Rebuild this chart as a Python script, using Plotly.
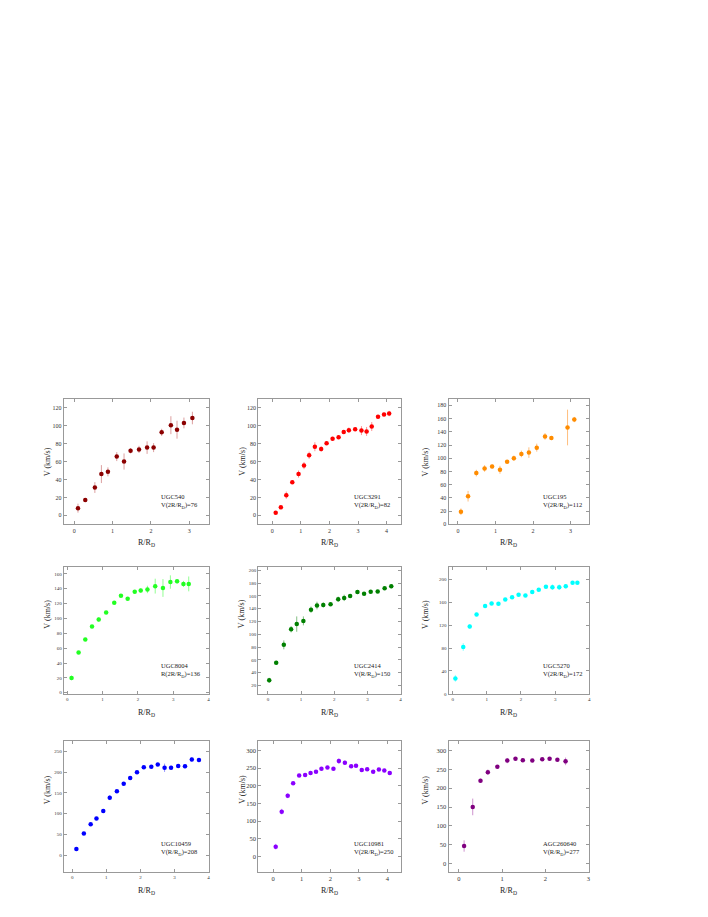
#--------------------- Packages
from plotly.subplots import make_subplots
import plotly.graph_objects as go

#--------------------- Data
# UGC540
r_540 = [0.10, 0.29, 0.54, 0.71, 0.88, 1.11, 1.30, 1.47, 1.69, 1.90, 2.07, 2.28, 2.52, 2.68, 2.86, 3.08]
v_540 = [8, 17, 31, 46, 48.5, 65.5, 60, 72, 73.5, 75.5, 75.5, 92.5, 100.5, 95.5, 103, 108.5]
e_540 = [5, 2, 6, 10, 5, 5, 9, 3, 4, 7, 5, 4, 10, 10, 6, 7]

# UGC3291
r_3291 = [0.12, 0.30, 0.49, 0.70, 0.92, 1.11, 1.29, 1.49, 1.71, 1.90, 2.11, 2.32, 2.50, 2.68, 2.90,
          3.12, 3.30, 3.48, 3.70, 3.91, 4.09]
v_3291 = [3, 9, 22.5, 37, 46, 55.5, 67, 76.5, 74, 80.5, 85.5, 87, 93, 95, 96, 94.5, 93.5, 99, 110, 112.5, 113.5]
e_3291 = [1.5, 1.5, 4, 2, 4, 4, 4, 5, 3, 2, 2, 2, 2, 3, 2, 5, 5, 5, 2, 2, 3]

# UGC195
r_195 = [0.08, 0.27, 0.49, 0.71, 0.91, 1.12, 1.31, 1.49, 1.69, 1.89, 2.10, 2.32, 2.49, 2.92, 3.10]
v_195 = [19, 42.5, 77.5, 84.5, 87.5, 82.5, 94.5, 100, 106.5, 108.5, 116, 133, 130.5, 146.5, 158.5]
e_195 = [5, 8, 5, 5, 3, 6, 2, 4, 5, 8, 6, 5, 3, 27, 4]

# UGC8004
r_8004 = [0.12, 0.32, 0.51, 0.70, 0.89, 1.10, 1.33, 1.52, 1.71, 1.91, 2.08, 2.27, 2.49, 2.71,
          2.92, 3.11, 3.29, 3.44]
v_8004 = [20, 54, 71.5, 89, 98.5, 108, 121, 130.5, 126.5, 136, 137.5, 139, 143.5, 141, 149, 150, 146.5, 146.5]
e_8004 = [3, 2, 1.5, 2, 3, 2, 1.5, 1.5, 2, 2, 3, 5, 10, 12, 9, 3, 4, 10]

# UGC2414
r_2414 = [0.04, 0.25, 0.48, 0.70, 0.87, 1.07, 1.30, 1.48, 1.67, 1.89, 2.12, 2.30, 2.48, 2.70,
          2.90, 3.10, 3.31, 3.52, 3.72]
v_2414 = [28, 55.5, 83.5, 108, 116, 121, 138.5, 145, 146, 147, 155, 157, 160, 166, 163.5, 166.5, 167, 172, 175]
e_2414 = [4, 3, 7, 5, 12, 7, 5, 6, 4, 2, 4, 5, 3, 2, 2, 2, 2, 2, 3]

# UGC5270
r_5270 = [0.08, 0.31, 0.50, 0.70, 0.95, 1.14, 1.34, 1.54, 1.74, 1.93, 2.13, 2.33, 2.52, 2.73,
          2.92, 3.12, 3.31, 3.51, 3.65]
v_5270 = [27, 82, 118, 139, 154, 158.5, 158, 165.5, 169.5, 173.5, 172.5, 178.5, 182.5, 187.5,
          187, 187, 188.5, 194.5, 194.5]
e_5270 = [6, 7, 4, 3, 3, 3, 3, 2, 2, 2, 2, 3, 2, 3, 5, 5, 4, 3, 2]

# UGC10459
r_10459 = [0.12, 0.34, 0.54, 0.71, 0.91, 1.10, 1.31, 1.51, 1.70, 1.90, 2.10, 2.32, 2.51, 2.71,
           2.90, 3.11, 3.31, 3.51, 3.72]
v_10459 = [15, 52, 74.5, 88, 106.5, 138.5, 154, 172, 186, 199.5, 211.5, 213, 218.5, 210.5,
           210.5, 214.5, 214, 230.5, 229]
e_10459 = [3, 3, 3, 3, 3, 6, 3, 3, 3, 3, 3, 3, 3, 10, 5, 4, 5, 5, 5]

# UGC10981
r_10981 = [0.09, 0.30, 0.51, 0.70, 0.91, 1.12, 1.31, 1.50, 1.69, 1.90, 2.11, 2.30, 2.51, 2.73,
           2.90, 3.10, 3.29, 3.50, 3.70, 3.89, 4.08]
v_10981 = [28, 127, 172, 207, 229.5, 230.5, 236, 239.5, 248, 251.5, 248, 270, 265.5, 255.5,
           257, 245, 247, 239.5, 246, 243.5, 236]
e_10981 = [8, 8, 7, 4, 3, 3, 3, 3, 3, 3, 3, 8, 6, 5, 4, 3, 3, 3, 3, 3, 3]

# AGC260640
r_260640 = [0.12, 0.32, 0.50, 0.67, 0.89, 1.12, 1.31, 1.48, 1.70, 1.93, 2.10, 2.28, 2.47]
v_260640 = [47, 150.5, 220, 242.5, 256.5, 273, 278, 274, 273, 276.5, 278, 275.5, 271]
e_260640 = [15, 22, 5, 7, 4, 7, 3, 5, 4, 3, 4, 3, 10]

names = ['UGC540', 'UGC3291', 'UGC195', 'UGC8004', 'UGC2414', 'UGC5270',
         'UGC10459', 'UGC10981', 'AGC260640']
vlabels = ['V(2R/R<sub>D</sub>)=76', 'V(2R/R<sub>D</sub>)=82', 'V(2R/R<sub>D</sub>)=112',
           'R(2R/R<sub>D</sub>)=136', 'V(R/R<sub>D</sub>)=150', 'V(2R/R<sub>D</sub>)=172',
           'V(R/R<sub>D</sub>)=208', 'V(2R/R<sub>D</sub>)=250', 'V(R/R<sub>D</sub>)=277']

#--------------------- Panel styling
panels = [
    (r_540, v_540, e_540, '#8b0000', 'rgba(205,120,120,0.7)'),
    (r_3291, v_3291, e_3291, '#ff0000', 'rgba(255,120,120,0.8)'),
    (r_195, v_195, e_195, '#ff8c00', 'rgba(255,175,95,0.8)'),
    (r_8004, v_8004, e_8004, '#22ff22', 'rgba(120,255,120,0.8)'),
    (r_2414, v_2414, e_2414, '#008000', 'rgba(100,175,100,0.8)'),
    (r_5270, v_5270, e_5270, '#00ffff', 'rgba(130,255,255,0.8)'),
    (r_10459, v_10459, e_10459, '#0000ff', 'rgba(120,120,255,0.8)'),
    (r_10981, v_10981, e_10981, '#8a00ff', 'rgba(195,130,255,0.8)'),
    (r_260640, v_260640, e_260640, '#800080', 'rgba(195,120,195,0.8)'),
]

xdom = [(0.079, 0.284), (0.3545, 0.5565), (0.624, 0.8234)]
ydom = [(0.4351, 0.5725), (0.2497, 0.3882), (0.0550, 0.1985)]

xranges = [[-0.27, 3.5], [-0.49, 4.5], [-0.25, 3.5],
           [-0.1, 4.0], [-0.29, 4.01], [-0.12, 4.0],
           [-0.25, 4.0], [-0.52, 4.47], [-0.24, 3.02]]
yranges = [[-10, 130], [-10, 130], [0, 190],
           [-1.4, 169], [7, 205], [0, 222],
           [-40, 276], [-43, 328], [-21, 326]]
ydtick = [20, 20, 20, 20, 20, 40, 50, 50, 50]
tfont = [6, 6, 6, 5, 5, 5, 5, 6.5, 6.5]

fig = make_subplots(rows=3, cols=3)

serif = 'Liberation Serif, Times New Roman, serif'

for k, (r, v, e, col, ecol) in enumerate(panels):
    row, c = k // 3 + 1, k % 3 + 1
    fig.add_trace(
        go.Scatter(
            x=r, y=v, mode='markers', showlegend=False,
            marker=dict(color=col, size=4.5, symbol='circle'),
            error_y=dict(type='data', array=e, color=ecol, thickness=1, width=0)),
        row=row, col=c)

    fig.update_xaxes(
        row=row, col=c, domain=xdom[c - 1], range=xranges[k],
        dtick=1, ticks='inside', ticklen=3, tickcolor='#999',
        mirror='allticks', showline=True, linecolor='#999', linewidth=1,
        showgrid=False, zeroline=False,
        tickfont=dict(size=tfont[k], family=serif, color='#333'))
    fig.update_yaxes(
        row=row, col=c, domain=ydom[row - 1], range=yranges[k],
        dtick=ydtick[k], tick0=0, ticks='inside', ticklen=3, tickcolor='#999',
        mirror='allticks', showline=True, linecolor='#999', linewidth=1,
        showgrid=False, zeroline=False,
        tickfont=dict(size=tfont[k], family=serif, color='#333'))

    x0, x1 = xdom[c - 1]
    y0, y1 = ydom[row - 1]

    # axis titles
    fig.add_annotation(
        x=(x0 + x1) / 2, y=y0 - 0.013, xref='paper', yref='paper',
        text='R/R<sub>D</sub>', showarrow=False, yanchor='top',
        font=dict(size=8, family=serif, color='#222'))
    fig.add_annotation(
        x=x0 - 0.032, y=(y0 + y1) / 2, xref='paper', yref='paper',
        text='V (km/s)', showarrow=False, textangle=-90,
        font=dict(size=8, family=serif, color='#222'))

    # galaxy name and velocity
    fig.add_annotation(
        x=x0 + 0.66 * (x1 - x0), y=y0 + 0.18 * (y1 - y0), xref='paper', yref='paper',
        text=names[k] + '<br>' + vlabels[k], showarrow=False,
        xanchor='left', yanchor='middle', align='left',
        font=dict(size=6.5, family=serif, color='#222'))

fig.update_layout(
    width=708, height=917,
    margin=dict(l=0, r=0, t=0, b=0),
    plot_bgcolor='white', paper_bgcolor='white')

fig.write_html("out.html")
